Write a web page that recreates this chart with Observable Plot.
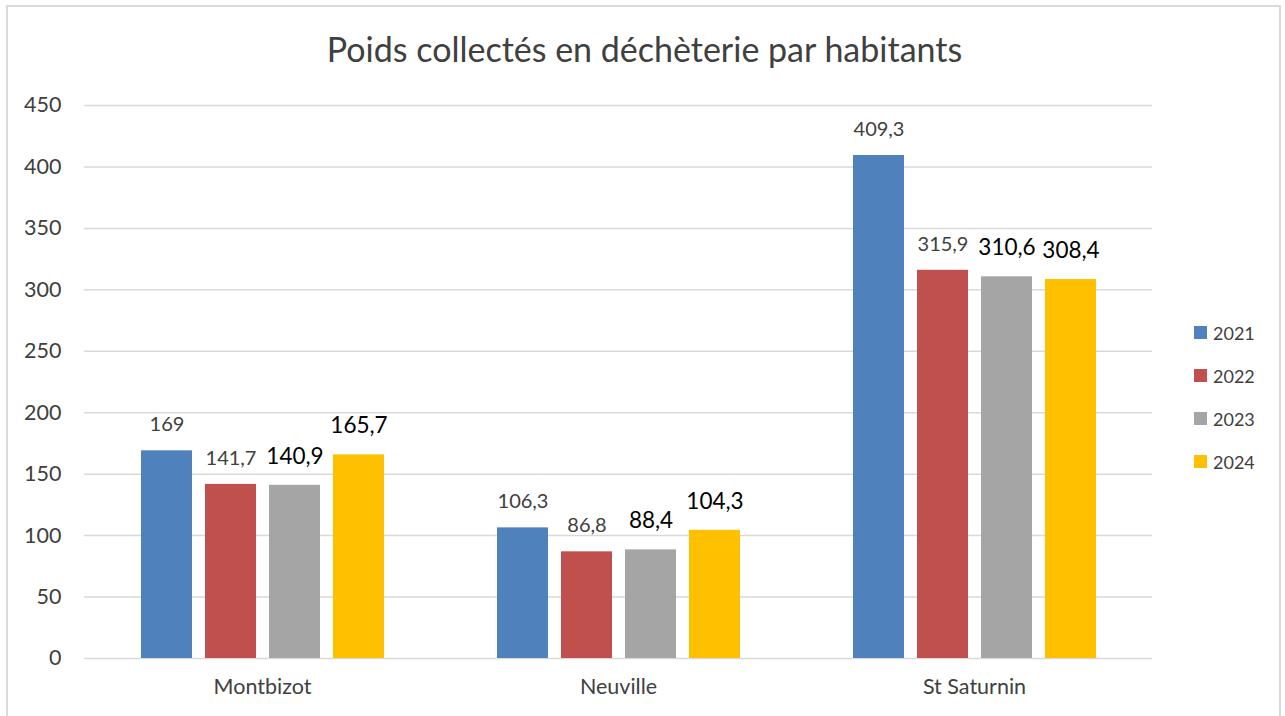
<!DOCTYPE html>
<html><head><meta charset="utf-8">
<script src="https://cdn.jsdelivr.net/npm/d3@7"></script>
<script src="https://cdn.jsdelivr.net/npm/@observablehq/plot@0.6"></script>
<style>
body{margin:0;background:#fff;font-family:Lato,"Open Sans",sans-serif;}
#wrap{position:relative;width:1285px;height:716px;overflow:hidden;}
#frame{position:absolute;left:6px;top:5px;width:1275px;height:730px;border:2px solid #d9d9d9;box-sizing:border-box;pointer-events:none;}
#title{height:80px;line-height:98px;text-align:center;font-size:34px;color:#404040;padding-left:4px;}
#legend{position:absolute;left:1194px;top:311px;}
.li{display:flex;align-items:center;height:43px;font-size:18px;color:#404040;}
.sw{width:13px;height:13px;margin-right:6px;}
</style></head>
<body><div id="wrap"><div id="frame"></div><div id="title">Poids collectés en déchèterie par habitants</div><div id="chart"></div><div id="legend"></div></div>
<script>
const communes = ["Montbizot", "Neuville", "St Saturnin"];
const years = ["2021", "2022", "2023", "2024"];
const v2021 = [169, 106.3, 409.3];
const v2022 = [141.7, 86.8, 315.9];
const v2023 = [140.9, 88.4, 310.6];
const v2024 = [165.7, 104.3, 308.4];
const colors = ["#4f81bd", "#c0504d", "#a5a5a5", "#ffc000"];
const yTicks = [0, 50, 100, 150, 200, 250, 300, 350, 400, 450];

const series = [v2021, v2022, v2023, v2024];
const data = [];
communes.forEach((c, i) => years.forEach((y, j) => data.push({commune: c, year: y, value: series[j][i]})));
const fmt = d => String(d).replace(".", ",");

const chart = Plot.plot({
  width: 1285, height: 636,
  marginLeft: 83, marginRight: 132, marginTop: 25, marginBottom: 58,
  style: {fontFamily: "Lato, 'Open Sans', sans-serif", fontSize: "21.5px", color: "#404040", background: "transparent"},
  fx: {domain: communes, padding: 0, label: null, tickSize: 0, tickPadding: 20, axis: "bottom"},
  x: {domain: years, axis: null, paddingInner: 0.21, paddingOuter: 0.86},
  y: {domain: [0, 450], ticks: yTicks, tickSize: 0, tickPadding: 23, label: null},
  color: {domain: years, range: colors},
  marks: [
    Plot.ruleY(yTicks, {stroke: "#d9d9d9", strokeWidth: 1.5}),
    Plot.barY(data, {fx: "commune", x: "year", y: "value", fill: "year"}),
    Plot.text(data.filter(d => d.year <= "2022"), {fx: "commune", x: "year", y: "value", text: d => fmt(d.value), dy: -26, fontSize: 20, fill: "#404040"}),
    Plot.text(data.filter(d => d.year >= "2023"), {fx: "commune", x: "year", y: "value", text: d => fmt(d.value), dy: -29, fontSize: 22.5, fill: "#000"})
  ]
});
document.getElementById("chart").appendChild(chart);
const lg = document.getElementById("legend");
years.forEach((y, i) => {
  const d = document.createElement("div"); d.className = "li";
  d.innerHTML = `<div class="sw" style="background:${colors[i]}"></div><span>${y}</span>`;
  lg.appendChild(d);
});
</script></body></html>
